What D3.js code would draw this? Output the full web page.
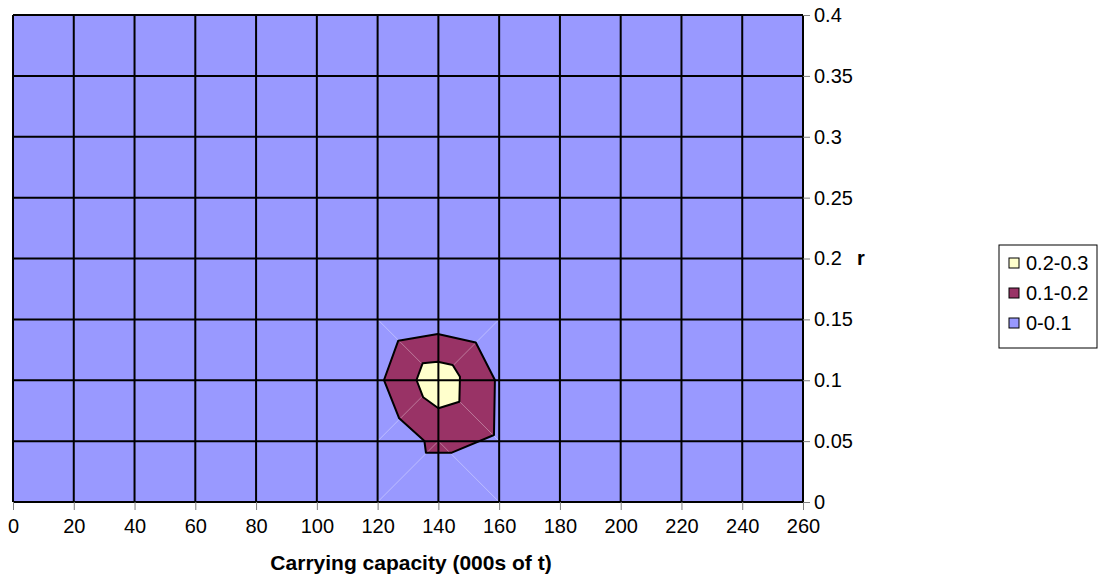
<!DOCTYPE html>
<html>
<head>
  <meta charset="utf-8">
  <title>Contour - r vs carrying capacity</title>
  <script src="https://d3js.org/d3.v7.min.js"></script>
  <style>
    body { margin: 0; background: #fff; }
    text { font-family: "Liberation Sans", Arial, sans-serif; }
  </style>
</head>
<body>
<script>
// ticks
const xTicks = d3.range(0, 261, 20);
const yTicks = [0, 0.05, 0.1, 0.15, 0.2, 0.25, 0.3, 0.35, 0.4];

// bands (legend order top to bottom)
const bands = ['0.2-0.3', '0.1-0.2', '0-0.1'];
const bandColors = ['#FFFFCC', '#993366', '#9999FF'];

// contour outlines [capacity, r]
const band1Outline = [
  [126.8, 0.1325], [139.8, 0.138], [152.3, 0.131], [158.6, 0.1002],
  [158.3, 0.055], [144.4, 0.0405], [135.9, 0.0405], [135.4, 0.0501],
  [127.1, 0.0687], [122.1, 0.1002]
];
const band2Outline = [
  [134.8, 0.1139], [139.8, 0.1152], [144.7, 0.1125], [147.1, 0.1029],
  [146.9, 0.0824], [140, 0.077], [135, 0.086], [132.8, 0.1002]
];

// triangulation diagonals of the surface cells near the peak
const diagonals = [
  [[120, 0.15], [140, 0.1]], [[160, 0.15], [140, 0.1]],
  [[120, 0.05], [140, 0.1]], [[160, 0.05], [140, 0.1]],
  [[120, 0], [140, 0.05]], [[160, 0], [140, 0.05]]
];

const width = 1100, height = 577;
const svg = d3.select('body').append('svg')
  .attr('width', width).attr('height', height);

const x = d3.scaleLinear().domain([0, 260]).range([13, 803]);
const y = d3.scaleLinear().domain([0, 0.4]).range([502, 15]);

// background band 0-0.1
svg.append('rect')
  .attr('x', x(0)).attr('y', y(0.4))
  .attr('width', x(260) - x(0)).attr('height', y(0) - y(0.4))
  .attr('fill', bandColors[2]);

const line = d3.line().x(d => x(d[0])).y(d => y(d[1]));

svg.append('path')
  .attr('d', line(band1Outline) + 'Z')
  .attr('fill', bandColors[1]);

svg.selectAll('.diag')
  .data(diagonals)
  .enter().append('path')
  .attr('class', 'diag')
  .attr('d', d => line(d))
  .attr('stroke', '#fff').attr('stroke-opacity', 0.35).attr('stroke-width', 1);

svg.append('path')
  .attr('d', line(band2Outline) + 'Z')
  .attr('fill', bandColors[0]);

// grid
svg.selectAll('.vgrid')
  .data(xTicks)
  .enter().append('line')
  .attr('x1', d => x(d)).attr('x2', d => x(d))
  .attr('y1', y(0.4)).attr('y2', y(0))
  .attr('stroke', '#000').attr('stroke-width', 2);

svg.selectAll('.hgrid')
  .data(yTicks)
  .enter().append('line')
  .attr('x1', x(0)).attr('x2', x(260))
  .attr('y1', d => y(d)).attr('y2', d => y(d))
  .attr('stroke', '#000').attr('stroke-width', 2);

// contour lines on top
[band1Outline, band2Outline].forEach(p => {
  svg.append('path')
    .attr('d', line(p) + 'Z')
    .attr('fill', 'none').attr('stroke', '#000')
    .attr('stroke-width', 2).attr('stroke-linejoin', 'round');
});

// axes
const xAxis = svg.append('g')
  .attr('transform', `translate(0,${y(0)})`)
  .call(d3.axisBottom(x).tickValues(xTicks).tickSize(8).tickPadding(9).tickFormat(d3.format('d')));
xAxis.select('.domain').remove();
xAxis.selectAll('line').attr('stroke', '#808080');
xAxis.selectAll('text').attr('font-size', 20).attr('fill', '#000')
  .style('font-family', '"Liberation Sans", Arial, sans-serif');

const yAxis = svg.append('g')
  .attr('transform', `translate(${x(260)},0)`)
  .call(d3.axisRight(y).tickValues(yTicks).tickSize(7).tickPadding(4).tickFormat(d => String(+d.toFixed(2))));
yAxis.select('.domain').remove();
yAxis.selectAll('line').attr('stroke', '#808080');
yAxis.selectAll('text').attr('font-size', 20).attr('fill', '#000')
  .style('font-family', '"Liberation Sans", Arial, sans-serif');

svg.append('text')
  .attr('x', 411).attr('y', 570)
  .attr('text-anchor', 'middle')
  .attr('font-size', 21).attr('font-weight', 'bold')
  .text('Carrying capacity (000s of t)');

svg.append('text')
  .attr('x', 857).attr('y', 265)
  .attr('font-size', 20).attr('font-weight', 'bold')
  .text('r');

// legend
const lg = svg.append('g').attr('transform', 'translate(999,245)');
lg.append('rect')
  .attr('width', 98).attr('height', 103)
  .attr('fill', '#fff').attr('stroke', '#000').attr('stroke-width', 1);
const items = lg.selectAll('.item')
  .data(bands)
  .enter().append('g')
  .attr('transform', (d, i) => `translate(10,${18 + i * 30})`);
items.append('rect')
  .attr('x', 0).attr('y', -5).attr('width', 10).attr('height', 10)
  .attr('fill', (d, i) => bandColors[i]).attr('stroke', '#000').attr('stroke-width', 1);
items.append('text')
  .attr('x', 17).attr('y', 7)
  .attr('font-size', 20)
  .text(d => d);
</script>
</body>
</html>
